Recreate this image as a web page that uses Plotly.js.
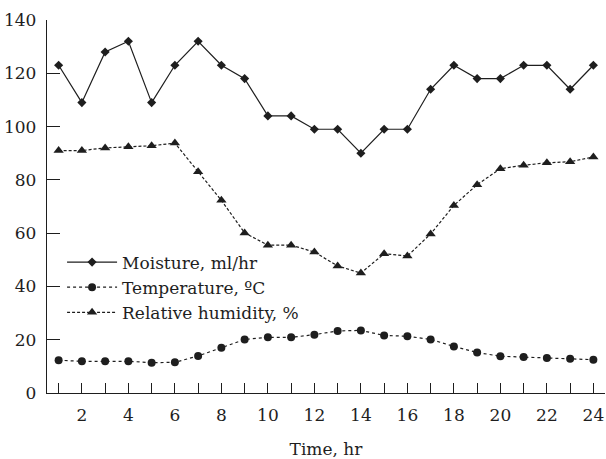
<!DOCTYPE html>
<html><head><meta charset="utf-8">
<script src="https://cdn.plot.ly/plotly-3.0.1.min.js"></script>
<style>html,body{margin:0;padding:0;background:#fff}#chart{width:606px;height:459px}</style>
</head><body><div id="chart"></div>
<script>
const hours = [1,2,3,4,5,6,7,8,9,10,11,12,13,14,15,16,17,18,19,20,21,22,23,24];
const moisture = [123,109,128,132,109,123,132,123,118,104,104,99,99,90,99,99,114,123,118,118,123,123,114,123];
const temperature = [12.3,11.9,11.9,11.9,11.4,11.5,13.9,17.0,20.1,20.9,20.9,21.9,23.3,23.5,21.6,21.3,20.1,17.5,15.2,13.8,13.5,13.1,12.9,12.5];
const humidity = [91,91,92,92.4,92.8,93.8,83,72.3,60.1,55.5,55.5,52.9,47.7,45,52.3,51.4,59.7,70.4,78.2,84.2,85.5,86.4,86.8,88.6];
const seriesNames = ['Moisture, ml/hr','Temperature, ºC','Relative humidity, %'];
const xTitle = 'Time, hr';

const ink = '#1e1e1e';
const font = {family: 'DejaVu Serif', size: 17, color: ink};

const traces = [
  {x: hours, y: moisture, name: seriesNames[0], mode: 'lines+markers',
   line: {color: ink, width: 1.2, dash: 'solid'},
   marker: {symbol: 'diamond', size: 7, color: ink}},
  {x: hours, y: temperature, name: seriesNames[1], mode: 'lines+markers',
   line: {color: ink, width: 1.2, dash: 'dot'},
   marker: {symbol: 'circle', size: 8, color: ink}},
  {x: hours, y: humidity, name: seriesNames[2], mode: 'lines+markers',
   line: {color: ink, width: 1.2, dash: '3px,2px'},
   marker: {symbol: 'triangle-up', size: 9, color: ink}}
];

const layout = {
  width: 606, height: 459,
  margin: {l: 47, r: 1, t: 20, b: 66},
  paper_bgcolor: '#fff', plot_bgcolor: '#fff',
  font: font,
  showlegend: true,
  legend: {x: 0.027, y: 0.398, xanchor: 'left', yanchor: 'top', bgcolor: 'rgba(0,0,0,0)',
           font: font, tracegroupgap: 0, itemwidth: 50},
  xaxis: {range: [0.5, 24.5], tick0: 2, dtick: 2, ticks: 'inside', ticklen: 10, tickwidth: 1,
          tickcolor: ink, showline: true, linecolor: ink, linewidth: 1.2, showgrid: false, zeroline: false,
          minor: {dtick: 1, tick0: 1, ticks: 'inside', ticklen: 10, tickwidth: 1, tickcolor: ink, showgrid: false},
          title: {text: xTitle, font: font, standoff: 22}, ticklabelstandoff: 6},
  yaxis: {range: [0, 140], tick0: 0, dtick: 20, ticks: 'inside', ticklen: 13, tickwidth: 1,
          tickcolor: ink, showline: true, linecolor: ink, linewidth: 1.2, showgrid: false, zeroline: false,
          ticklabelstandoff: 6}
};

Plotly.newPlot('chart', traces, layout, {displayModeBar: false, staticPlot: true});
</script></body></html>
